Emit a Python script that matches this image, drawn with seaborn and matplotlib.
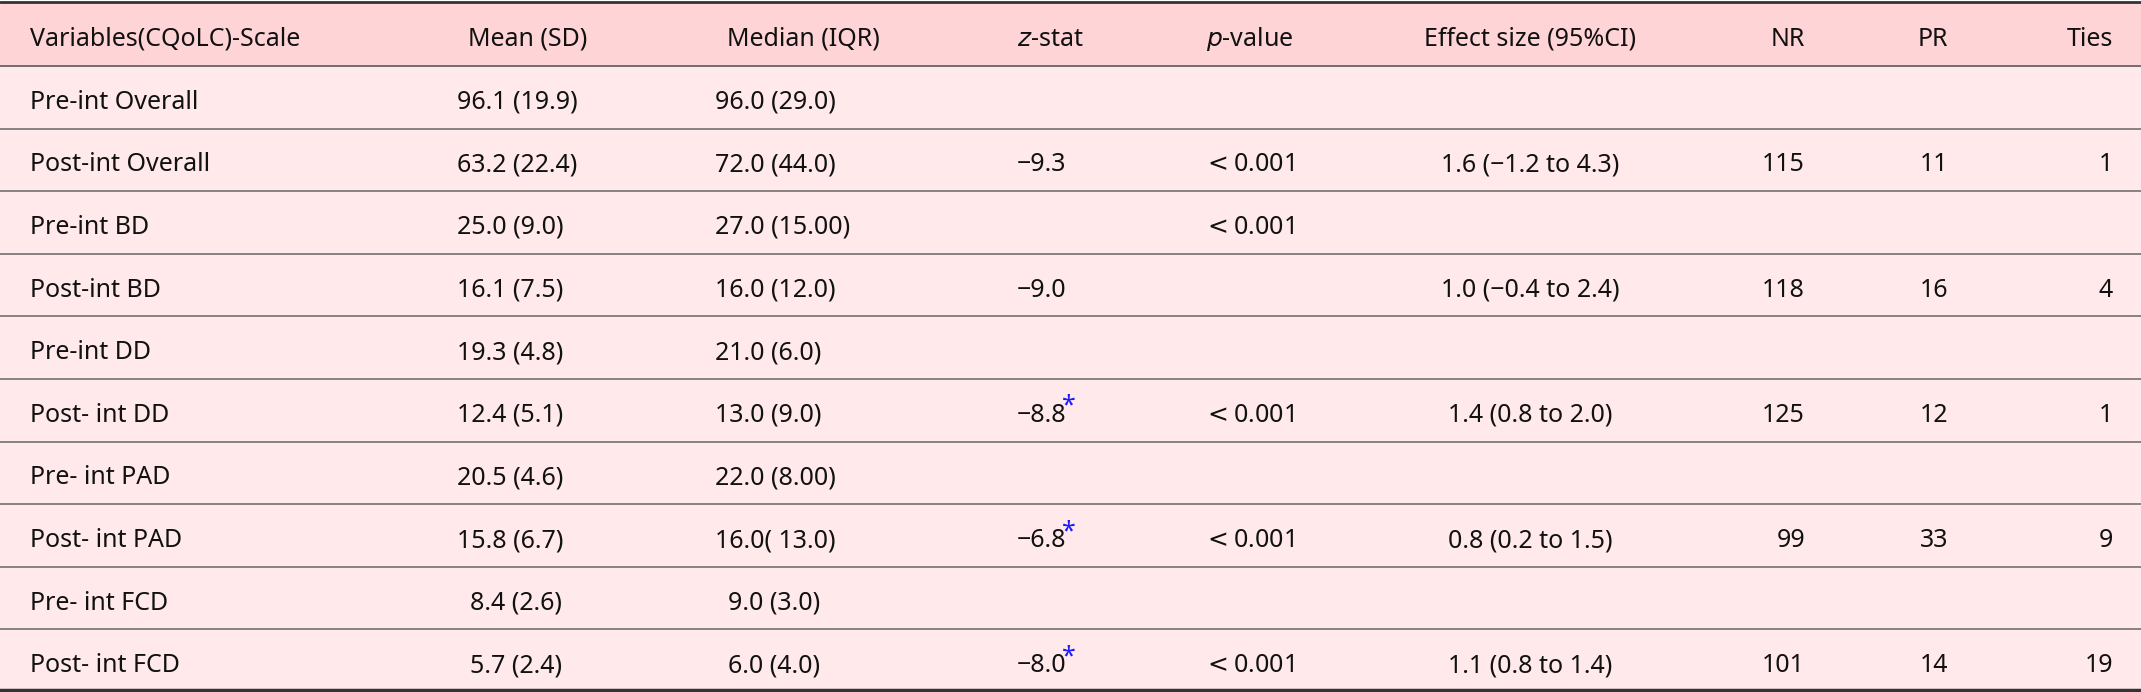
import matplotlib
matplotlib.use("Agg")
import matplotlib.pyplot as plt
import seaborn as sns

sns.set_theme(style="white")
plt.rcParams['font.family'] = ['Noto Sans', 'DejaVu Sans']

headers = ["Variables(CQoLC)-Scale", "Mean (SD)", "Median (IQR)", "z-stat", "p-value",
           "Effect size (95%CI)", "NR", "PR", "Ties"]
variables = ["Pre-int Overall", "Post-int Overall", "Pre-int BD", "Post-int BD", "Pre-int DD",
             "Post- int DD", "Pre- int PAD", "Post- int PAD", "Pre- int FCD", "Post- int FCD"]
mean_sd = ["96.1 (19.9)", "63.2 (22.4)", "25.0 (9.0)", "16.1 (7.5)", "19.3 (4.8)",
           "12.4 (5.1)", "20.5 (4.6)", "15.8 (6.7)", "8.4 (2.6)", "5.7 (2.4)"]
median_iqr = ["96.0 (29.0)", "72.0 (44.0)", "27.0 (15.00)", "16.0 (12.0)", "21.0 (6.0)",
              "13.0 (9.0)", "22.0 (8.00)", "16.0( 13.0)", "9.0 (3.0)", "6.0 (4.0)"]
z_stat = ["", "−9.3", "", "−9.0", "", "−8.8", "", "−6.8", "", "−8.0"]
z_star = [False, False, False, False, False, True, False, True, False, True]
p_value = ["", "0.001", "0.001", "", "", "0.001", "", "0.001", "", "0.001"]
effect = ["", "1.6 (−1.2 to 4.3)", "", "1.0 (−0.4 to 2.4)", "", "1.4 (0.8 to 2.0)", "",
          "0.8 (0.2 to 1.5)", "", "1.1 (0.8 to 1.4)"]
nr = ["", "115", "", "118", "", "125", "", "99", "", "101"]
pr = ["", "11", "", "16", "", "12", "", "33", "", "14"]
ties = ["", "1", "", "4", "", "1", "", "9", "", "19"]

W, H = 2141, 692
fig = plt.figure(figsize=(W/100, H/100), dpi=100)
ax = fig.add_axes([0, 0, 1, 1])
ax.set_xlim(0, W); ax.set_ylim(H, 0); ax.axis("off")

top, hb, pitch = 2, 66, 62.6
ax.axhspan(top, hb, color="#FFD4D7", zorder=0)
ax.axhspan(hb, H, color="#FFE9EB", zorder=0)
ax.axhline(top, color="#333333", lw=2)
ax.axhline(hb, color="#666666", lw=1.3)
for i in range(1, 10):
    ax.axhline(hb + i*pitch, color="#666666", lw=1.1)
ax.axhline(H-2, color="#333333", lw=2.5)

fs = 18
dy = 5
def t(x, y, s, ha="left", **kw):
    ax.text(x, y + dy, s, ha=ha, va="center", fontsize=fs, color="#111111", **kw)

hy = (top + hb) / 2
t(30, hy, headers[0]); t(587, hy, headers[1], "right"); t(880, hy, headers[2], "right")
t(1050, hy, "$\\it{z}$-stat", "center"); t(1250, hy, "$\\it{p}$-value", "center")
t(1530, hy, headers[5], "center"); t(1805, hy, headers[6], "right")
t(1948, hy, headers[7], "right"); t(2113, hy, headers[8], "right")

for i in range(10):
    y = hb + (i + 0.5) * pitch
    t(30, y, variables[i])
    m = mean_sd[i]; off = 13 if len(m.split()[0]) < 4 else 0
    t(457 + off, y, m)
    md = median_iqr[i]; off = 13 if len(md.split("(")[0].strip()) < 4 else 0
    t(715 + off, y, md)
    if z_stat[i]:
        t(1042, y, z_stat[i], "center")
        if z_star[i]:
            ax.text(1042 + 27, y - 4, "*", ha="center", va="center", fontsize=fs, color="#1a1aff")
    if p_value[i]:
        t(1203, y, "$<$" + p_value[i])
    if effect[i]:
        t(1530, y, effect[i], "center")
    t(1805, y, nr[i], "right"); t(1948, y, pr[i], "right"); t(2113, y, ties[i], "right")

fig.savefig("out.png", dpi=100)
